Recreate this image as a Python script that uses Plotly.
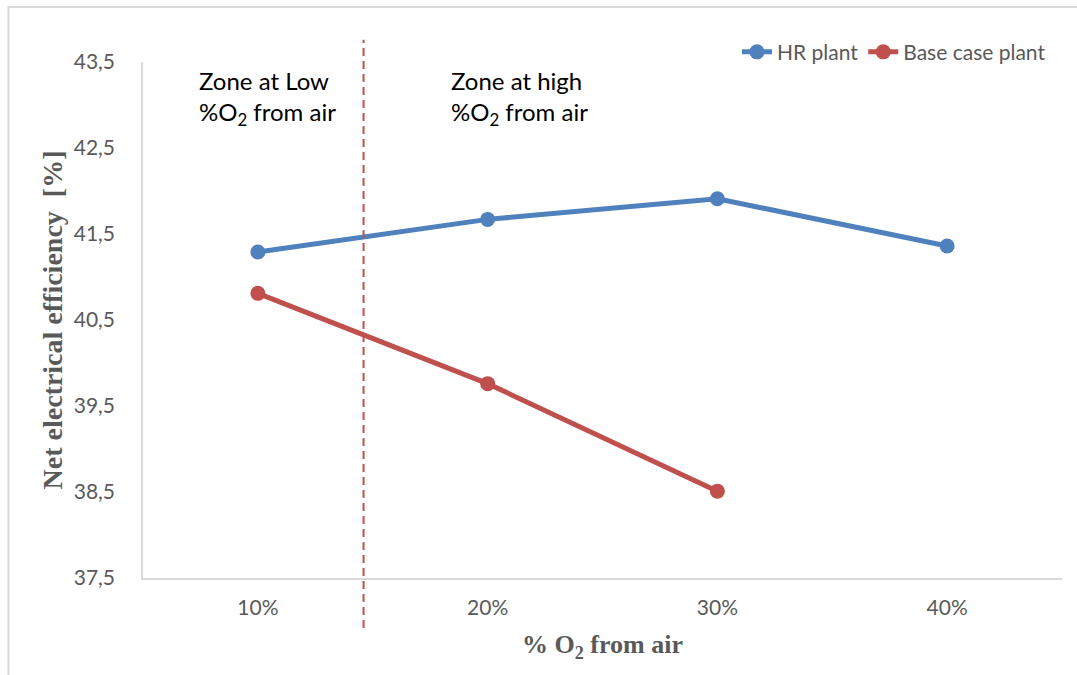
import plotly.graph_objects as go

# Oxygen share taken from air (category axis)
o2_share = ["10%", "20%", "30%", "40%"]

# Net electrical efficiency [%]
hr_plant = [41.29, 41.67, 41.91, 41.36]
base_case_plant = [40.81, 39.76, 38.51]

y_ticks = [37.5, 38.5, 39.5, 40.5, 41.5, 42.5, 43.5]

BLUE = "#4f81bd"
RED = "#c0504d"
GREY_TXT = "#595959"
GREY_LINE = "#d9d9d9"

fig = go.Figure()

fig.add_trace(go.Scatter(
    x=o2_share, y=hr_plant, name="HR plant",
    mode="lines+markers",
    line=dict(color=BLUE, width=5),
    marker=dict(color=BLUE, size=15),
))
fig.add_trace(go.Scatter(
    x=o2_share[:len(base_case_plant)], y=base_case_plant, name="Base case plant",
    mode="lines+markers",
    line=dict(color=RED, width=5),
    marker=dict(color=RED, size=15),
))

# Outer frame of the chart area
fig.add_shape(type="rect", xref="paper", yref="paper",
              x0=-0.1464, x1=1.2, y0=-0.4, y1=1.1066,
              line=dict(color=GREY_LINE, width=2), layer="below")

# Boundary between the low and high O2 zones
fig.add_shape(type="line", xref="x", yref="paper",
              x0=0.46, x1=0.46, y0=-0.097, y1=1.043,
              line=dict(color=RED, width=2, dash="8px,5px"))

zone_font = dict(family="Lato, sans-serif", size=24, color="black")
fig.add_annotation(xref="paper", yref="paper", x=0.0585, y=0.997,
                   xanchor="left", yanchor="top", align="left",
                   text="Zone at Low<br>%O<sub>2</sub> from air",
                   showarrow=False, font=zone_font)
fig.add_annotation(xref="paper", yref="paper", x=0.3330, y=0.997,
                   xanchor="left", yanchor="top", align="left",
                   text="Zone at high<br>%O<sub>2</sub> from air",
                   showarrow=False, font=zone_font)

fig.update_layout(
    width=1077, height=675,
    margin=dict(l=143, r=15, t=62, b=97),
    paper_bgcolor="white", plot_bgcolor="white",
    separators=",.",
    showlegend=True,
    legend=dict(orientation="h", x=0.988, xanchor="right", y=1.019, yanchor="middle",
                font=dict(family="Lato, sans-serif", size=21, color=GREY_TXT),
                bgcolor="rgba(0,0,0,0)", itemwidth=30, tracegroupgap=0),
    font=dict(family="Lato, sans-serif", color=GREY_TXT),
)

fig.update_xaxes(
    type="category", range=[-0.5, 3.5],
    showline=True, linecolor=GREY_LINE, linewidth=1.5,
    showgrid=False, zeroline=False,
    ticks="outside", ticklen=10, tickcolor="rgba(0,0,0,0)",
    tickfont=dict(family="Lato, sans-serif", size=21, color=GREY_TXT),
    title=dict(text="% O<sub>2</sub> from air", standoff=17,
               font=dict(family="Liberation Serif, serif", size=26, color=GREY_TXT,
                         weight="bold")),
)
fig.update_yaxes(
    range=[37.5, 43.5], tickvals=y_ticks, tickformat=".1f",
    showline=True, linecolor=GREY_LINE, linewidth=1.5,
    showgrid=False, zeroline=False,
    ticks="outside", ticklen=22, tickcolor="rgba(0,0,0,0)",
    tickfont=dict(family="Lato, sans-serif", size=21, color=GREY_TXT),
    title=dict(text="Net electrical efficiency  [%]", standoff=3,
               font=dict(family="Liberation Serif, serif", size=28, color=GREY_TXT,
                         weight="bold")),
)

fig.write_html("out.html")
